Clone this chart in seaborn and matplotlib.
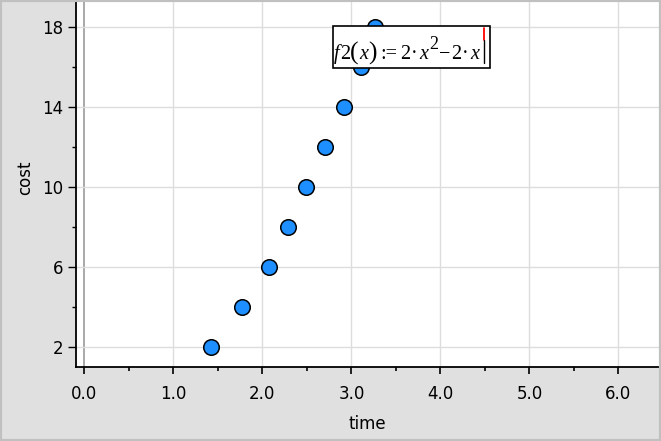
import matplotlib
matplotlib.use("Agg")
import matplotlib.pyplot as plt
from matplotlib.patches import Rectangle
from matplotlib.lines import Line2D
import seaborn as sns
import pandas as pd

time = [1.42, 1.775, 2.08, 2.29, 2.49, 2.70, 2.92, 3.11, 3.27]
cost = [2, 4, 6, 8, 10, 12, 14, 16, 18]
x_ticks = [0, 1, 2, 3, 4, 5, 6]
x_tick_labels = ["0.0", "1.0", "2.0", "3.0", "4.0", "5.0", "6.0"]
y_ticks = [2, 6, 10, 14, 18]
y_tick_labels = ["2", "6", "10", "14", "18"]
x_minor = [0.5, 1.5, 2.5, 3.5, 4.5, 5.5]
y_minor = [4, 8, 12, 16]

df = pd.DataFrame({"time": time, "cost": cost})

sns.set_style("white")
plt.rcParams["font.family"] = ["DejaVu Sans"]

W, H = 661, 441
fig = plt.figure(figsize=(W / 100, H / 100), dpi=100)
fig.patch.set_facecolor("#e0e0e0")
fig.add_artist(Rectangle((0, 0), 1, 1, transform=fig.transFigure, fill=False,
                         edgecolor="#c0c0c0", linewidth=3))

left, right, top, bottom = 75.5, 658.5, 2, 367
ax = fig.add_axes([left / W, 1 - bottom / H, (right - left) / W, (bottom - top) / H])
ax.set_facecolor("white")

ax.set_xlim(-0.099, 6.45)
ax.set_ylim(1.0, 19.25)

for xv in x_ticks:
    ax.axvline(xv, color="#999999" if xv == 0 else "#dddddd", lw=1.2 if xv == 0 else 1.0, zorder=0)
for yv in y_ticks:
    ax.axhline(yv, color="#dddddd", lw=1.0, zorder=0)

sns.scatterplot(data=df, x="time", y="cost", ax=ax, s=125, color="#1e8fff",
                edgecolor="black", linewidth=1.1, zorder=3, legend=False)

ax.set_xticks(x_ticks)
ax.set_xticklabels(x_tick_labels)
ax.set_yticks(y_ticks)
ax.set_yticklabels(y_tick_labels)
ax.set_xticks(x_minor, minor=True)
ax.set_yticks(y_minor, minor=True)
ax.tick_params(axis="x", which="major", length=5, width=1.2, color="black",
               labelsize=12, labelcolor="black", pad=8, direction="out", bottom=True)
ax.tick_params(axis="x", which="minor", length=3, width=1.2, color="black",
               direction="out", bottom=True)
ax.tick_params(axis="y", which="major", length=6, width=1.0, color="black",
               labelsize=12, labelcolor="black", pad=3, direction="out", left=True)
ax.tick_params(axis="y", which="minor", length=3, width=1.0, color="black",
               direction="out", left=True)

for s in ["top", "right"]:
    ax.spines[s].set_visible(False)
for s in ["left", "bottom"]:
    ax.spines[s].set_color("black")
    ax.spines[s].set_linewidth(1.3)

ax.set_xlabel("time", fontsize=12, color="black")
ax.set_ylabel("cost", fontsize=12, color="black")
ax.xaxis.set_label_coords(0.5, -0.132)
ax.yaxis.set_label_coords(-0.071, 0.518)

# function entry box
bx0, bx1, by0, by1 = 333, 490, 26, 68
fig.add_artist(Rectangle((bx0 / W, 1 - by1 / H), (bx1 - bx0) / W, (by1 - by0) / H,
                         transform=fig.transFigure, facecolor="white",
                         edgecolor="black", linewidth=1.2, zorder=10))

renderer = fig.canvas.get_renderer()
serif = "Liberation Serif"
base = 59
fs = 14.5
# (text, size, italic, gap_before, baseline offset)
pieces = [
    ("f", fs, True, 0, 0),
    ("2", fs, False, 0.5, 0),
    ("(", 18.5, False, 0, 1),
    ("x", fs, True, 0, 0),
    (")", 18.5, False, 0.5, 1),
    (":=", fs, False, 4, 0),
    ("2", fs, False, 2.5, 0),
    ("\u00b7", fs, False, 0.5, 0),
    ("x", fs, True, 2, 0),
    ("2", 13, False, 0.5, -10),
    ("\u2212", fs, False, 1, 0),
    ("2", fs, False, 0.5, 0),
    ("\u00b7", fs, False, 0.5, 0),
    ("x", fs, True, 2, 0),
]
cur = 334.0
for txt, size, ital, gap, off in pieces:
    cur += gap
    t = fig.text(cur / W, 1 - (base + off) / H, txt, fontsize=size, family=serif,
                 style="italic" if ital else "normal", ha="left", va="baseline",
                 color="black", zorder=11)
    bb = t.get_window_extent(renderer)
    cur = bb.x1

cx = max(cur + 1.5, 484.5)
fig.add_artist(Line2D([cx / W, cx / W], [1 - 28 / H, 1 - 40 / H],
                      transform=fig.transFigure, color="red", lw=1.3, zorder=12))
fig.add_artist(Line2D([cx / W, cx / W], [1 - 40 / H, 1 - 63 / H],
                      transform=fig.transFigure, color="black", lw=1.0, zorder=12))

fig.savefig("out.png", dpi=100, facecolor=fig.get_facecolor())
